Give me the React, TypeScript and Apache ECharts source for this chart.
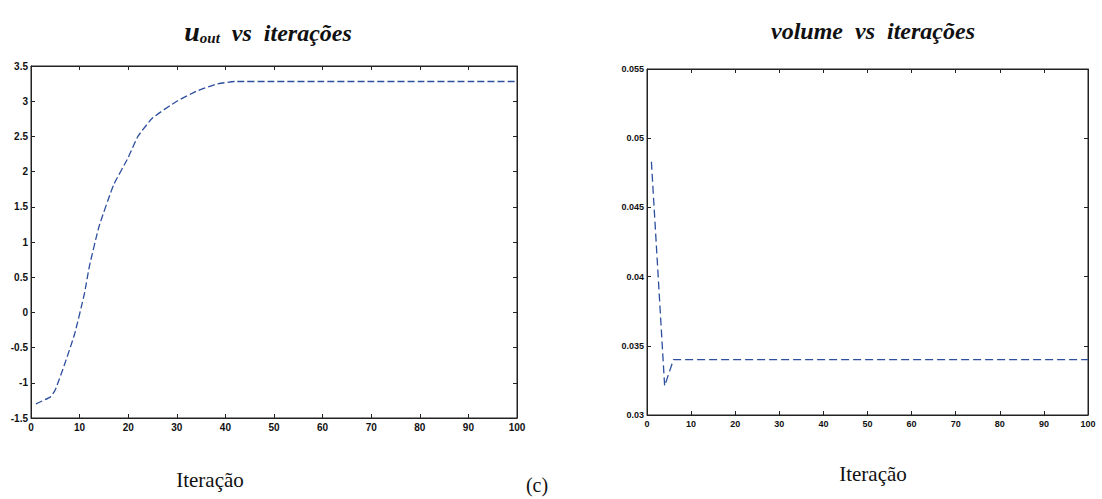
import React, { useEffect, useRef } from "react";
import * as echarts from "echarts";

const uIter = [1, 4, 5, 7, 9, 11, 12, 14, 17, 20, 22, 25, 30, 34, 38, 42, 50, 60, 70, 80, 90, 100];
const uOut = [-1.3, -1.2, -1.1, -0.72, -0.3, 0.27, 0.65, 1.22, 1.81, 2.2, 2.5, 2.76, 3.0, 3.14, 3.24, 3.28, 3.28, 3.28, 3.28, 3.28, 3.28, 3.28];

const vIter = [1, 2, 3, 4, 6, 10, 30, 60, 100];
const vVol = [0.0483, 0.0429, 0.0375, 0.0321, 0.034, 0.034, 0.034, 0.034, 0.034];

const xTicksMax = 100;
const lineColor = "#2d4f9e";

export default function App() {
  const ref = useRef<HTMLDivElement>(null);
  useEffect(() => {
    const chart = echarts.init(ref.current!, null, { renderer: "svg" });
    const axisLine = { show: true, onZero: false, lineStyle: { color: "#222", width: 1 } };
    const tickIn = { show: true, inside: true, length: 4, lineStyle: { color: "#222" } };
    const lblL = { color: "#111", fontFamily: "Liberation Sans", fontWeight: "bold" as const, fontSize: 10 };
    const lblR = { color: "#111", fontFamily: "Liberation Sans", fontWeight: "bold" as const, fontSize: 9 };
    const serif = "'Liberation Serif', 'DejaVu Serif', serif";
    const titleStyle = { fontFamily: serif, fontStyle: "italic" as const, fontWeight: "bold" as const, color: "#111" };
    const plain = { fontFamily: serif, fontWeight: "normal" as const, fontSize: 21, lineHeight: 24, color: "#111" };
    chart.setOption({
      animation: false,
      backgroundColor: "#fff",
      title: [
        {
          text: "{u|u}{s|out}{t|  vs  iterações}",
          left: 263, top: 10, textAlign: "center",
          textStyle: {
            rich: {
              u: { ...titleStyle, fontSize: 28, verticalAlign: "bottom", lineHeight: 30 },
              s: { ...titleStyle, fontSize: 15, verticalAlign: "bottom", lineHeight: 22 },
              t: { ...titleStyle, fontSize: 24, verticalAlign: "bottom", lineHeight: 30 },
            },
          },
        },
        {
          text: "volume  vs  iterações",
          left: 868, top: 14, textAlign: "center",
          textStyle: { ...titleStyle, fontSize: 24 },
        },
        { text: "Iteração", left: 210, top: 468, padding: 0, textAlign: "center", textStyle: plain },
        { text: "(c)", left: 537, top: 473, padding: 0, textAlign: "center", textStyle: { ...plain, fontSize: 20 } },
        { text: "Iteração", left: 873, top: 462, padding: 0, textAlign: "center", textStyle: plain },
      ],
      grid: [
        { left: 31, top: 66, width: 486, height: 352, show: true, borderColor: "#222", borderWidth: 1 },
        { left: 647, top: 69, width: 441, height: 346, show: true, borderColor: "#222", borderWidth: 1 },
      ],
      xAxis: [
        { gridIndex: 0, type: "value", min: 0, max: xTicksMax, interval: 10, axisLine, axisTick: tickIn, splitLine: { show: false }, axisLabel: { ...lblL, margin: 4 } },
        { gridIndex: 0, type: "value", position: "top", min: 0, max: xTicksMax, interval: 10, axisLine, axisTick: tickIn, splitLine: { show: false }, axisLabel: { show: false } },
        { gridIndex: 1, type: "value", min: 0, max: xTicksMax, interval: 10, axisLine, axisTick: tickIn, splitLine: { show: false }, axisLabel: { ...lblR, margin: 4 } },
        { gridIndex: 1, type: "value", position: "top", min: 0, max: xTicksMax, interval: 10, axisLine, axisTick: tickIn, splitLine: { show: false }, axisLabel: { show: false } },
      ],
      yAxis: [
        { gridIndex: 0, type: "value", min: -1.5, max: 3.5, interval: 0.5, axisLine, axisTick: tickIn, splitLine: { show: false }, axisLabel: { ...lblL, margin: 3 } },
        { gridIndex: 0, type: "value", position: "right", min: -1.5, max: 3.5, interval: 0.5, axisLine, axisTick: tickIn, splitLine: { show: false }, axisLabel: { show: false } },
        { gridIndex: 1, type: "value", min: 0.03, max: 0.055, interval: 0.005, axisLine, axisTick: tickIn, splitLine: { show: false }, axisLabel: { ...lblR, margin: 3 } },
        { gridIndex: 1, type: "value", position: "right", min: 0.03, max: 0.055, interval: 0.005, axisLine, axisTick: tickIn, splitLine: { show: false }, axisLabel: { show: false } },
      ],
      series: [
        {
          type: "line", xAxisIndex: 0, yAxisIndex: 0, smooth: 0.15, showSymbol: false,
          data: uIter.map((x, i) => [x, uOut[i]]),
          lineStyle: { color: lineColor, width: 1.3, type: [7, 3] },
        },
        {
          type: "line", xAxisIndex: 2, yAxisIndex: 2, showSymbol: false,
          data: vIter.map((x, i) => [x, vVol[i]]),
          lineStyle: { color: lineColor, width: 1.3, type: [8, 4] },
        },
      ],
    });
    return () => chart.dispose();
  }, []);
  return <div ref={ref} style={{ position: "fixed", left: 0, top: 0, width: 1102, height: 499 }} />;
}
